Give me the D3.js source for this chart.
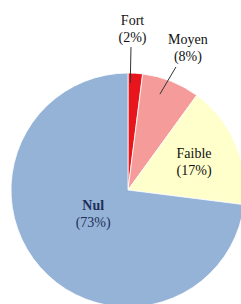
<!DOCTYPE html>
<html lang="fr">
<head>
<meta charset="UTF-8">
<title>Répartition</title>
<script src="https://d3js.org/d3.v7.min.js"></script>
<style>
  html, body { margin: 0; padding: 0; background: #fff; }
  svg { display: block; }
  .lbl { font-family: "Liberation Serif", "Times New Roman", serif; font-size: 14px; }
</style>
</head>
<body>
<svg width="241" height="304"></svg>
<script>
// données
const categories = ["Fort", "Moyen", "Faible", "Nul"];
const values = [2, 8, 17, 73];
const colors = ["#e8161c", "#f59c9a", "#ffffcc", "#95b3d7"];
const textColors = ["#111", "#111", "#111", "#1f2f5a"];

const svg = d3.select("svg");
const cx = 128, cy = 190, r = 117;

const pie = d3.pie().sort(null).value(d => d.value);
const arcs = pie(categories.map((c, i) => ({ name: c, value: values[i], i })));
const arc = d3.arc().innerRadius(0).outerRadius(r);

const g = svg.append("g").attr("transform", `translate(${cx},${cy})`);

g.selectAll("path")
  .data(arcs)
  .enter().append("path")
  .attr("d", arc)
  .attr("fill", d => colors[d.data.i])
  .attr("stroke", "#fff")
  .attr("stroke-width", 0.8);

// position des étiquettes (rayon, décalage angulaire) comme dans Excel
const labelPos = [
  { rad: 162, da: -0.035 },
  { rad: 155, da: 0.02 },
  { rad: 72, da: 0 },
  { rad: 42, da: 0.13 }
];

function polar(rad, a) {
  return [rad * Math.sin(a), -rad * Math.cos(a)];
}

arcs.forEach(d => {
  const mid = (d.startAngle + d.endAngle) / 2;
  const p = labelPos[d.data.i];
  const [x, y] = polar(p.rad, mid + p.da);
  const t = g.append("text")
    .attr("class", "lbl")
    .attr("text-anchor", "middle")
    .attr("fill", textColors[d.data.i])
    .attr("font-weight", d.data.name === "Nul" ? "bold" : null);
  t.append("tspan").attr("x", x).attr("y", y - 3).text(d.data.name);
  t.append("tspan").attr("x", x).attr("y", y + 14)
    .attr("font-weight", "normal")
    .text(`(${d.data.value}%)`);
});

// lignes de repère pour Fort et Moyen (angle en degrés depuis midi)
const leaders = [
  { from: 143, a1: 1.2, to: 107, a2: 1.2 },
  { from: 132, a1: 21.3, to: 101, a2: 18.4 }
];
const rad = deg => deg * Math.PI / 180;
leaders.forEach(l => {
  const [x1, y1] = polar(l.from, rad(l.a1));
  const [x2, y2] = polar(l.to, rad(l.a2));
  g.append("line")
    .attr("x1", x1).attr("y1", y1)
    .attr("x2", x2).attr("y2", y2)
    .attr("stroke", "#333")
    .attr("stroke-width", 1);
});
</script>
</body>
</html>
